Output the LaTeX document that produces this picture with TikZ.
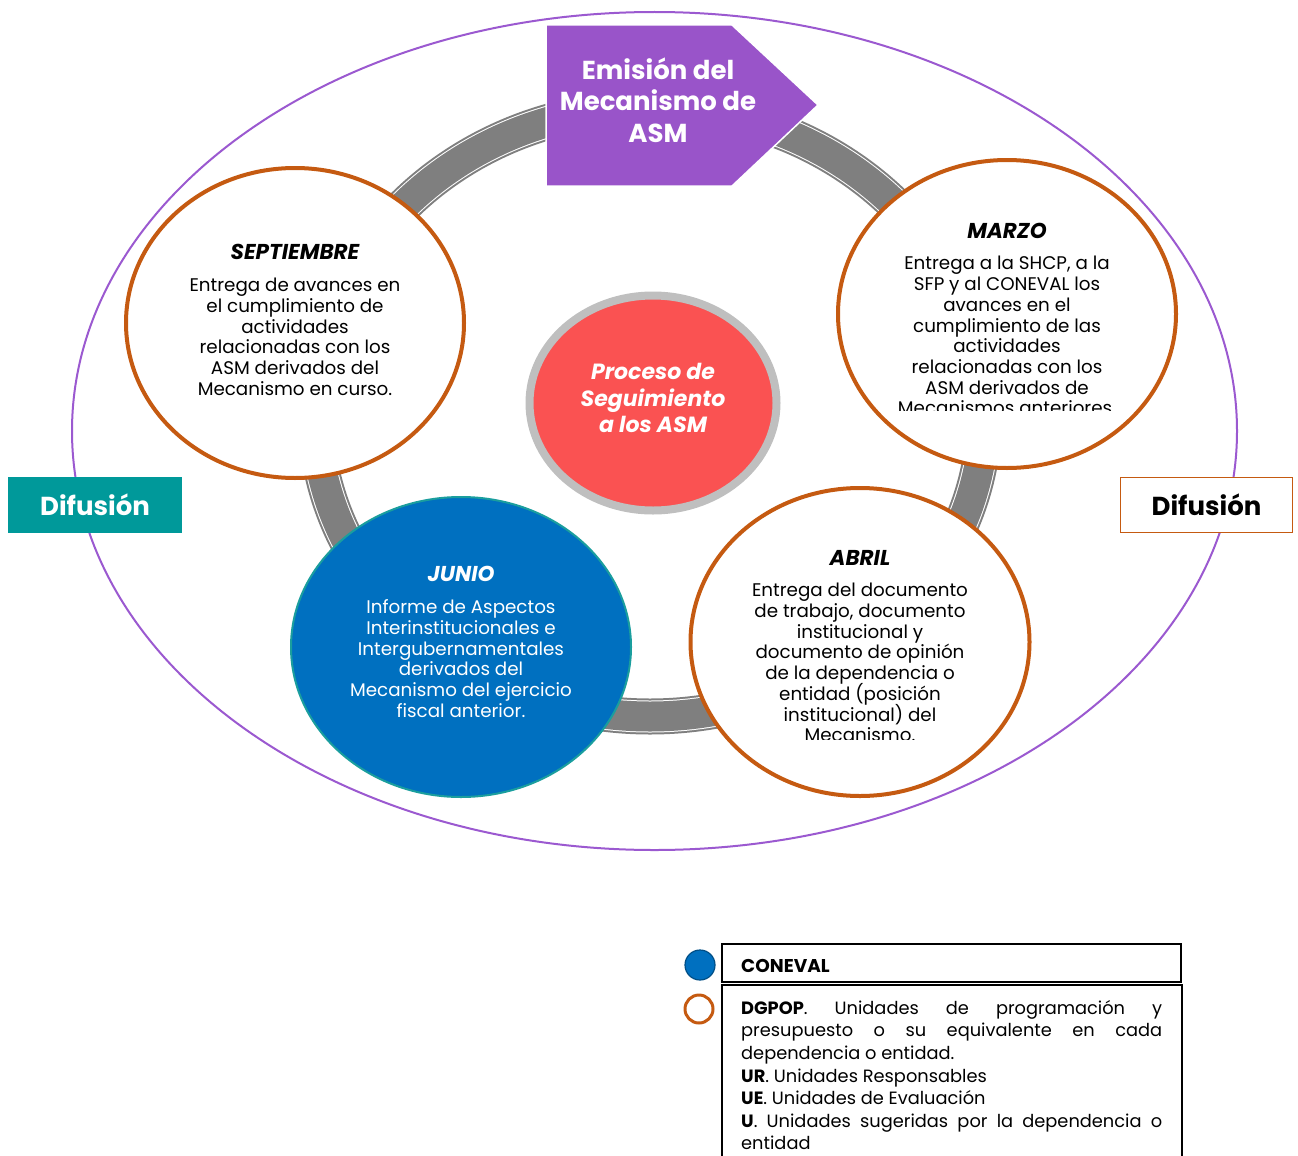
\documentclass[tikz,border=0pt]{standalone}
\usepackage{fontspec}
\setmainfont{Poppins}
\usetikzlibrary{shapes.geometric}
\definecolor{purpleline}{HTML}{9B59D0}
\definecolor{purplebox}{HTML}{9954C9}
\definecolor{orangeline}{HTML}{C55A11}
\definecolor{ringgray}{HTML}{7F7F7F}
\definecolor{lightgray}{HTML}{BFBFBF}
\definecolor{redfill}{HTML}{FA5252}
\definecolor{bluefill}{HTML}{0070C0}
\definecolor{tealline}{HTML}{1A9E9E}
\definecolor{tealfill}{HTML}{00999A}
\newcommand{\tightlines}{\lineskiplimit-20pt\relax}
\tikzset{
  monthcircle/.style={ellipse, draw=orangeline, line width=4pt, fill=white, inner sep=0pt},
  bodytext/.style={align=center, inner sep=0pt, font={\fontsize{18.3}{20.7}\selectfont\tightlines}},
  difbox/.style={minimum width=174pt, minimum height=56pt, inner sep=0pt, font=\fontsize{26}{30}\selectfont\bfseries},
}
\newcommand{\monthtitle}[1]{{\fontsize{21.5}{24}\selectfont\bfseries\itshape #1}\\[11pt]}
\begin{document}
\begin{tikzpicture}[x=1pt,y=-1pt]
\useasboundingbox (0,0) rectangle (1298,1156);
% outer purple ellipse
\draw[purpleline, line width=2pt] (654.5,431) ellipse [x radius=582.5, y radius=419];
% gray ring
\draw[ringgray, line width=36pt] (650,412) ellipse [x radius=334.5, y radius=304.5];
\draw[white, line width=32pt] (650,412) ellipse [x radius=334.5, y radius=304.5];
\draw[ringgray, line width=30pt] (650,412) ellipse [x radius=334.5, y radius=304.5];
% purple pentagon
\draw[white, line width=1.5pt, fill=purplebox] (546,25) -- (732,25) -- (818,105) -- (732,186) -- (546,186) -- cycle;
\node[align=center, text=white, inner sep=0pt, font=\fontsize{26}{31.5}\selectfont\bfseries] (emision) at (658,100) {Emisión del\\Mecanismo de\\ASM};
% SEPTIEMBRE
\node[monthcircle, minimum width=338pt, minimum height=310pt] (sept) at (295,323) {};
\node[bodytext] (septtxt) at (295,320) {\monthtitle{SEPTIEMBRE}Entrega de avances en\\el cumplimiento de\\actividades\\relacionadas con los\\ASM derivados del\\Mecanismo en curso.};
% MARZO
\node[monthcircle, minimum width=338pt, minimum height=308pt] (marzo) at (1007,314) {};
\begin{scope}
\clip (820,150) rectangle (1190,410);
\node[bodytext] (marzotxt) at (1007,319) {\monthtitle{MARZO}Entrega a la SHCP, a la\\SFP y al CONEVAL los\\avances en el\\cumplimiento de las\\actividades\\relacionadas con los\\ASM derivados de\\Mecanismos anteriores.};
\end{scope}
% center
\node[ellipse, draw=lightgray, line width=8pt, fill=redfill, minimum width=247pt, minimum height=215pt, inner sep=0pt] (centro) at (653,403) {};
\node[align=center, text=white, inner sep=0pt, font=\fontsize{22}{26.5}\selectfont\bfseries\itshape] (centrotxt) at (653,398) {Proceso de\\Seguimiento\\a los ASM};
% JUNIO
\node[ellipse, draw=tealline, line width=2pt, fill=bluefill, minimum width=340pt, minimum height=300pt, inner sep=0pt] (junio) at (461,647) {};
\node[bodytext, text=white] (juniotxt) at (461,642) {\monthtitle{JUNIO}Informe de Aspectos\\Interinstitucionales e\\Intergubernamentales\\derivados del\\Mecanismo del ejercicio\\fiscal anterior.};
% ABRIL
\node[monthcircle, minimum width=339pt, minimum height=308pt] (abril) at (860,642) {};
\begin{scope}
\clip (680,480) rectangle (1040,739);
\node[bodytext] (abriltxt) at (860,646) {\monthtitle{ABRIL}Entrega del documento\\de trabajo, documento\\institucional y\\documento de opinión\\de la dependencia o\\entidad (posición\\institucional) del\\Mecanismo.};
\end{scope}
% Difusion boxes
\node[difbox, fill=tealfill, text=white] (difizq) at (95,505) {Difusión};
\node[difbox, draw=orangeline, line width=1.2pt, fill=white, minimum width=172pt, minimum height=55pt] (difder) at (1206.5,505) {Difusión};
% legend
\node[circle, fill=bluefill, draw=bluefill!70!black, line width=1.2pt, minimum size=30pt, inner sep=0pt] (legblue) at (700,965) {};
\draw[black, line width=1.8pt] (722,944) rectangle (1181,982);
\node[anchor=west, inner sep=0pt, font=\fontsize{18.5}{20}\selectfont\bfseries] (legconeval) at (741,966) {CONEVAL};
\node[circle, draw=orangeline, line width=3pt, minimum size=28pt, inner sep=0pt] (legorange) at (699,1009) {};
\draw[black, line width=1.8pt] (722,1170) -- (722,985) -- (1182,985) -- (1182,1170);
\node[anchor=north west, inner sep=0pt, text width=421pt, align=justify, font=\fontsize{17.8}{22.6}\selectfont] (legtext) at (741,1000) {\textbf{DGPOP}. Unidades de programación y\linebreak presupuesto o su equivalente en cada\linebreak dependencia o entidad.\\\textbf{UR}. Unidades Responsables\\\textbf{UE}. Unidades de Evaluación\\\textbf{U}. Unidades sugeridas por la dependencia o\linebreak entidad};
\end{tikzpicture}
\end{document}
